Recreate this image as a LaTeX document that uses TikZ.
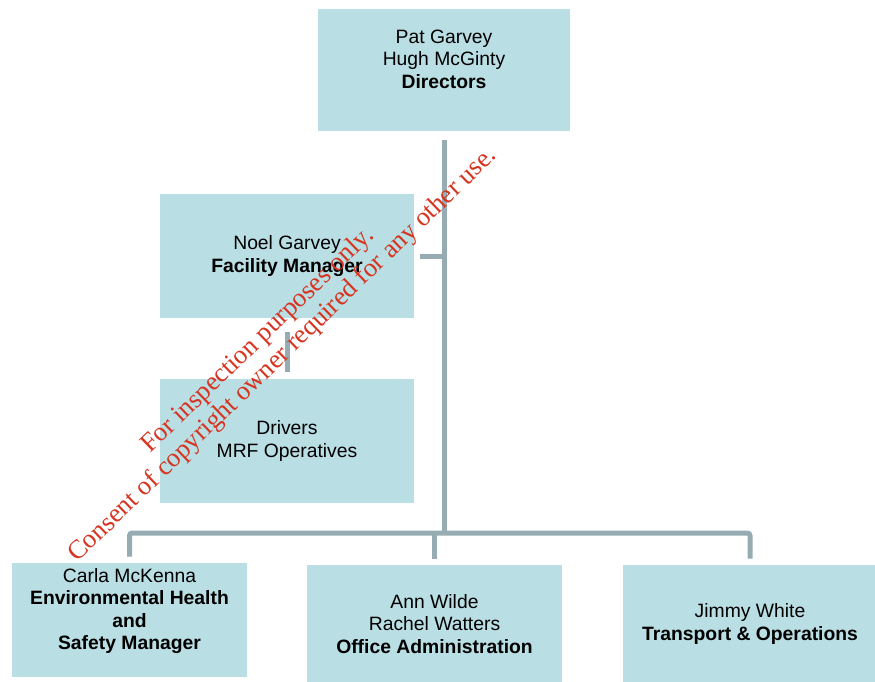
\documentclass[tikz,border=0pt]{standalone}
\usepackage{fontspec}
\setmainfont{Liberation Sans}
\newfontfamily\wmfont{Liberation Serif}
\usetikzlibrary{positioning}

\definecolor{boxblue}{RGB}{185,222,227}
\definecolor{linkgray}{RGB}{150,172,178}
\definecolor{stampred}{RGB}{214,52,32}

\begin{document}
\begin{tikzpicture}[x=0.02cm, y=-0.02cm,
    unit/.style={rectangle, fill=boxblue, align=center, inner sep=2pt,
                 font=\fontsize{11}{12.8}\selectfont},
    link/.style={draw=linkgray, line width=0.1cm, rounded corners=1.5pt},
    stamp/.style={font=\wmfont\fontsize{15.1}{17}\selectfont, text=stampred,
                  rotate=44, anchor=base west, inner sep=0pt}]
    \useasboundingbox (0,0) rectangle (875,681);

    % boxes
    \node[unit, minimum width=5.04cm, minimum height=2.46cm] (dir) at (444,70) {Pat Garvey\\Hugh McGinty\\\textbf{Directors}\\~};
    \node[unit, minimum width=5.08cm, minimum height=2.48cm] (fac) at (287,256) {Noel Garvey\\\textbf{Facility Manager}};
    \node[unit, minimum width=5.08cm, minimum height=2.48cm] (drv) at (287,441) {Drivers\\MRF Operatives};
    \node[unit, minimum width=4.70cm, minimum height=2.28cm] (ehs) at (129.5,620) {Carla McKenna\\\textbf{Environmental Health}\\\textbf{and}\\\textbf{Safety Manager}\\~};
    \node[unit, minimum width=5.10cm, minimum height=2.36cm] (off) at (434.5,624) {Ann Wilde\\Rachel Watters\\\textbf{Office Administration}};
    \node[unit, minimum width=5.08cm, minimum height=2.36cm] (trn) at (750,624) {Jimmy White\\\textbf{Transport \& Operations}};

    \coordinate (bus) at (444,533);

    % connectors
    \draw[link, shorten <=0.16cm] (dir.south) -- (bus);
    \draw[link, shorten <=0.12cm] (fac.east) -- (fac.east -| bus);
    \draw[link, shorten <=0.28cm, shorten >=0.14cm] (fac.south) -- (drv.north);
    \draw[link, shorten <=0.12cm, shorten >=0.12cm] (ehs.north) |- (bus) -| (trn.north);
    \draw[link, shorten <=0.12cm] (off.north) -- (off.north |- bus);

    % watermark
    \node[stamp] (wmA) at (150,454) {For inspection purposes only.};
    \node[stamp] (wmB) at (77,563) {Consent of copyright owner required for any other use.};
\end{tikzpicture}
\end{document}
